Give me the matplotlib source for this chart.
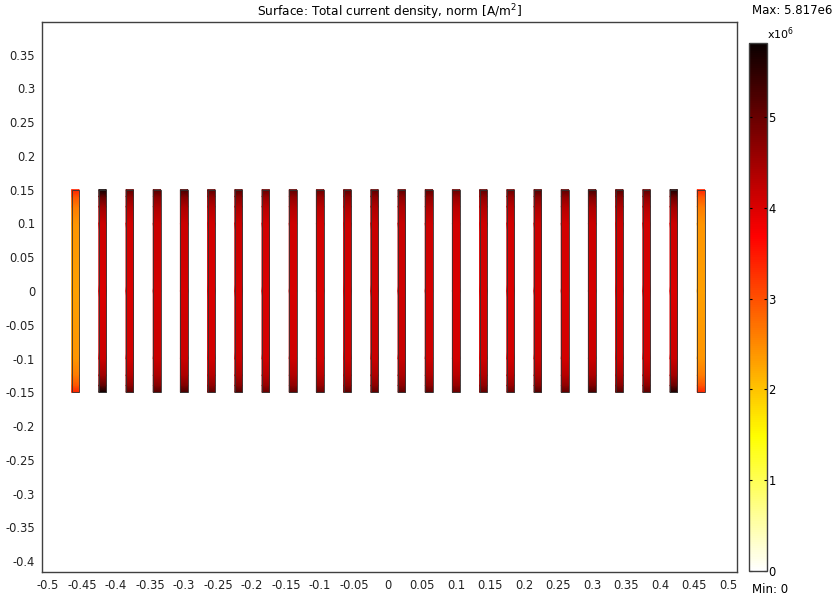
import numpy as np
import matplotlib.pyplot as plt
from matplotlib.patches import Rectangle

# Conductor bar centres (x, m) and extent
bar_x = [-0.46, -0.42, -0.38, -0.34, -0.30, -0.26, -0.22, -0.18, -0.14, -0.10, -0.06, -0.02,
         0.02, 0.06, 0.10, 0.14, 0.18, 0.22, 0.26, 0.30, 0.34, 0.38, 0.42, 0.46]
bar_width = 0.011
bar_y0, bar_y1 = -0.15, 0.15

# Current density (x1e6 A/m^2): middle of bar and at its ends
J_mid = [2.3, 4.0, 4.0, 4.05, 4.05, 4.0, 4.05, 4.0, 4.05, 4.0, 4.05, 4.1,
         4.1, 4.05, 4.0, 4.05, 4.0, 4.05, 4.0, 4.05, 4.05, 4.0, 4.0, 2.3]
J_end = [3.4, 5.8, 5.1, 5.2, 5.3, 5.1, 5.2, 5.0, 5.1, 5.0, 5.1, 5.1,
         5.1, 5.1, 5.0, 5.1, 5.0, 5.2, 5.1, 5.3, 5.2, 5.1, 5.7, 3.4]

# how much of the end value shows at each height along a bar
y_levels = [-0.15, -0.14, -0.125, -0.10, 0.0, 0.10, 0.125, 0.14, 0.15]
end_share = [1.0, 0.6, 0.3, 0.08, 0.0, 0.08, 0.3, 0.6, 1.0]

J_max = 5.817e6
x_ticks = [-0.5, -0.45, -0.4, -0.35, -0.3, -0.25, -0.2, -0.15, -0.1, -0.05, 0,
           0.05, 0.1, 0.15, 0.2, 0.25, 0.3, 0.35, 0.4, 0.45, 0.5]
y_ticks = [-0.4, -0.35, -0.3, -0.25, -0.2, -0.15, -0.1, -0.05, 0,
           0.05, 0.1, 0.15, 0.2, 0.25, 0.3, 0.35]
cbar_ticks = [0, 1, 2, 3, 4, 5]

plt.rcParams['font.family'] = ['DejaVu Sans']
fig = plt.figure(figsize=(8.35, 5.97), dpi=100)
ax = fig.add_axes([0.0503, 0.0419, 0.8323, 0.921])
cmap = plt.get_cmap('hot_r')

share = np.array(end_share)
for x, jm, je in zip(bar_x, J_mid, J_end):
    vals = (jm + (je - jm) * share) * 1e6
    X, Y = np.meshgrid([x - bar_width / 2, x + bar_width / 2], y_levels)
    Z = np.column_stack([vals, vals])
    mesh = ax.pcolormesh(X, Y, Z, shading='gouraud', cmap=cmap, vmin=0, vmax=J_max)
    ax.add_patch(Rectangle((x - bar_width / 2, bar_y0), bar_width, bar_y1 - bar_y0,
                           fill=False, edgecolor='#333333', linewidth=0.6))

ax.set_xlim(-0.509, 0.513)
ax.set_ylim(-0.416, 0.398)
ax.set_xticks(x_ticks)
ax.set_xticklabels(['%g' % t for t in x_ticks])
ax.set_yticks(y_ticks)
ax.set_yticklabels(['%g' % t for t in y_ticks])
ax.tick_params(length=0, labelsize=8.3, pad=5, colors='#222222')
for s in ax.spines.values():
    s.set_color('#404040')
    s.set_linewidth(1.0)
ax.set_title('Surface: Total current density, norm [A/m$^2$]', fontsize=8.7, pad=4)

# colour bar
cax = fig.add_axes([0.897, 0.0436, 0.0216, 0.8844])
cb = fig.colorbar(mesh, cax=cax, ticks=[t * 1e6 for t in cbar_ticks])
cb.ax.set_yticklabels([str(t) for t in cbar_ticks])
cb.ax.tick_params(direction='in', left=True, right=True, length=2.5, width=0.8,
                  labelsize=8.3, pad=1, colors='black')
cb.outline.set_edgecolor('#404040')
cb.outline.set_linewidth(1.0)
fig.text(0.918, 0.935, 'x10$^6$', fontsize=8)
fig.text(0.9, 0.982, 'Max: 5.817e6', fontsize=8.5, va='center')
fig.text(0.9, 0.013, 'Min: 0', fontsize=8.5, va='center')

fig.savefig('out.png', dpi=100)
